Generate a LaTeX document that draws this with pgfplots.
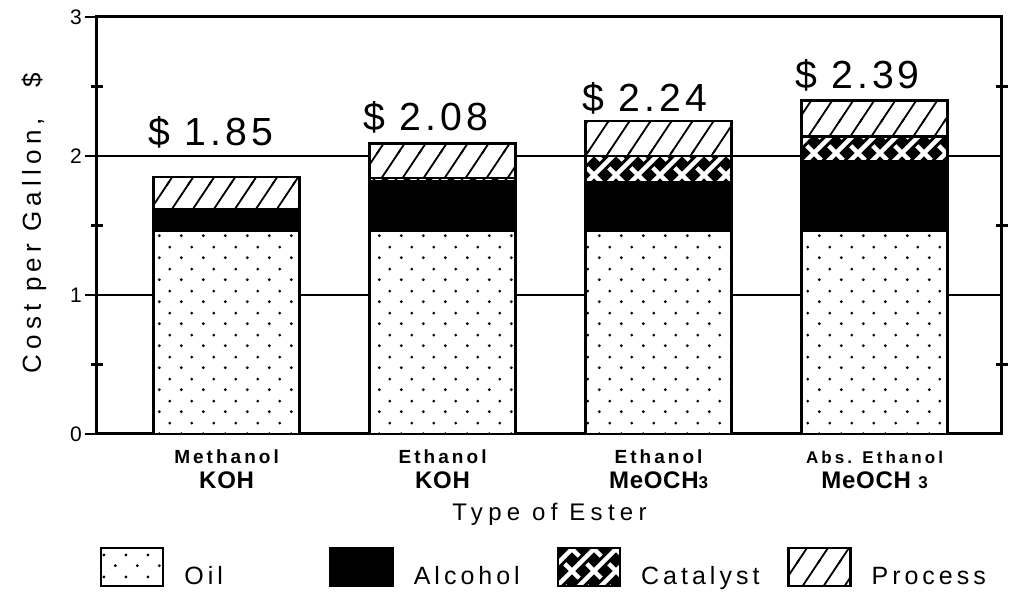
\documentclass[border=0pt]{standalone}
\usepackage{fontspec}
\setmainfont{Liberation Sans}
\usepackage{pgfplots}
\pgfplotsset{compat=1.18}
\usetikzlibrary{patterns}

\newcommand{\fs}[2]{\fontsize{#1}{#2}\selectfont}
\newcommand{\trk}[1]{\addfontfeature{LetterSpace=#1}}

\pgfdeclarepatternformonly{oildots}{\pgfqpoint{0pt}{0pt}}{\pgfqpoint{11pt}{11pt}}{\pgfqpoint{11pt}{11pt}}{%
  \pgfpathcircle{\pgfqpoint{2.75pt}{2.75pt}}{0.8pt}%
  \pgfpathcircle{\pgfqpoint{8.25pt}{8.25pt}}{0.8pt}%
  \pgfusepath{fill}}
\pgfdeclarepatternformonly{hatch}{\pgfqpoint{-1pt}{-1pt}}{\pgfqpoint{11.5pt}{16.75pt}}{\pgfqpoint{10.5pt}{15.75pt}}{%
  \pgfsetlinewidth{0.9pt}%
  \pgfpathmoveto{\pgfqpoint{-0.667pt}{-1pt}}%
  \pgfpathlineto{\pgfqpoint{11.167pt}{16.75pt}}%
  \pgfusepath{stroke}}
\pgfdeclarepatternformonly{weave}{\pgfqpoint{-1pt}{-1pt}}{\pgfqpoint{12pt}{12pt}}{\pgfqpoint{11pt}{11pt}}{%
  \pgfsetlinewidth{2.2pt}%
  \pgfpathmoveto{\pgfqpoint{-1pt}{-1pt}}%
  \pgfpathlineto{\pgfqpoint{12pt}{12pt}}%
  \pgfpathmoveto{\pgfqpoint{-1pt}{12pt}}%
  \pgfpathlineto{\pgfqpoint{3.6pt}{7.4pt}}%
  \pgfpathmoveto{\pgfqpoint{7.4pt}{3.6pt}}%
  \pgfpathlineto{\pgfqpoint{12pt}{-1pt}}%
  \pgfusepath{stroke}}

\pgfplotstableread{
x oil alcohol catalyst process
0 1.46 0.14 0.02 0.23
1 1.46 0.36 0.02 0.25
2 1.46 0.35 0.19 0.25
3 1.46 0.50 0.18 0.26
}\costs

\begin{document}
\begin{tikzpicture}
\path[use as bounding box] (-48.5pt,-79.5pt) rectangle (456pt,217pt);
\begin{axis}[
  at={(0,0)}, anchor=south west,
  scale only axis, width=452.5pt, height=208.5pt,
  xmin=-0.6, xmax=3.59, ymin=0, ymax=3,
  ybar stacked, bar width=73pt,
  axis line style={line width=1.5pt},
  xtick={0,1,2,3},
  xticklabels={Methanol,Ethanol,Ethanol,{\fs{8.5}{9}\trk{18}Abs. Ethanol}},
  xticklabel style={anchor=base, yshift=-9pt, font=\fs{9.5}{10}\bfseries\trk{16}},
  x tick style={draw=none},
  extra x ticks={0,1,2,3},
  extra x tick labels={KOH,KOH,{MeOCH{\fs{8.5}{9}3}},{MeOCH {\fs{8.5}{9}3}}},
  extra x tick style={xticklabel style={yshift=-12.5pt, font=\fs{12}{13}\bfseries\trk{3}}},
  ytick={0,1,2,3}, ytick pos=left, tick align=center,
  major tick length=12pt,
  y tick style={line width=1.2pt, black},
  ymajorgrids, major grid style={line width=1.3pt, black},
  extra y ticks={0.5,1.5,2.5}, extra y tick labels={},
  extra y tick style={grid=none, ytick pos=both, tick align=center, major tick length=6pt},
  yticklabel style={anchor=east, xshift=2pt, font=\fs{10.5}{12}},
  /pgf/number format/assume math mode=true,
  xlabel={Type of Ester},
  xlabel style={at={(axis description cs:0.5,0)}, anchor=base, yshift=-43.5pt, font=\fs{12}{13}\trk{22}},
  ylabel={Cost per Gallon,\hspace{15pt}\$},
  ylabel style={at={(axis description cs:-0.0619,0.505)}, anchor=base, font=\fs{13}{14}\trk{20}},
  legend columns=4,
  legend cell align=left,
  legend style={at={(axis description cs:0,0)}, anchor=north west, xshift=1.5pt, yshift=-56.5pt,
    draw=none, fill=none, inner sep=0pt, outer sep=0pt, column sep=0pt,
    nodes={inner sep=0pt}, font=\fs{12.5}{14}\trk{16}},
  legend image code/.code={\draw[#1, line width=1.2pt] (0pt,-2.5pt) rectangle (31pt,16.5pt); \path (41pt,0pt);},
  every axis plot/.append style={draw=black, line width=1.2pt},
]
\addplot[fill=white, postaction={pattern=oildots}] table[x=x, y=oil] {\costs};
\addlegendentry{\raisebox{4pt}{\makebox[72.5pt][l]{Oil}}}
\addplot[fill=black] table[x=x, y=alcohol] {\costs};
\addlegendentry{\raisebox{4pt}{\makebox[71.5pt][l]{Alcohol}}}
\addplot[fill=black, postaction={pattern=weave, pattern color=white}] table[x=x, y=catalyst] {\costs};
\addlegendentry{\raisebox{4pt}{\makebox[73pt][l]{Catalyst}}}
\addplot[fill=white, postaction={pattern=hatch}] table[x=x, y=process] {\costs};
\addlegendentry{\raisebox{4pt}{\makebox[61.5pt][l]{Process}}}
\node[anchor=base, font=\fs{19.6}{22}\trk{10}] at (axis cs:-0.074,2.079) {\$ 1.85};
\node[anchor=base, font=\fs{19.6}{22}\trk{10}] at (axis cs:0.921,2.187) {\$ 2.08};
\node[anchor=base, font=\fs{19.6}{22}\trk{10}] at (axis cs:1.935,2.317) {\$ 2.24};
\node[anchor=base, font=\fs{19.6}{22}\trk{10}] at (axis cs:2.921,2.489) {\$ 2.39};
\end{axis}
\end{tikzpicture}
\end{document}
